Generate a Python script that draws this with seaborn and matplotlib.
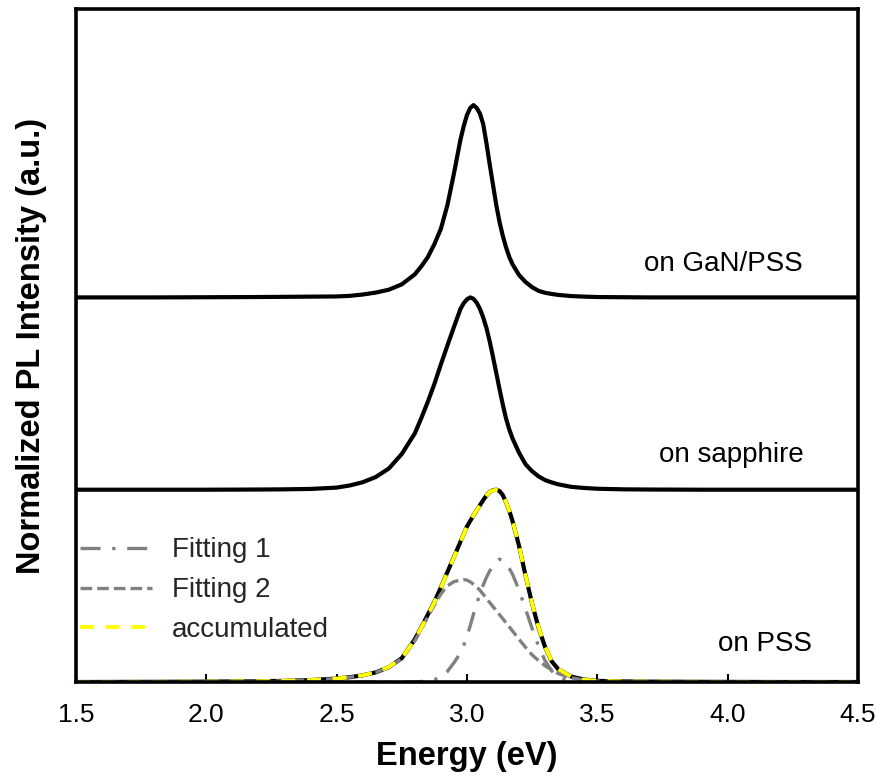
import numpy as np
import pandas as pd
import matplotlib
matplotlib.use("Agg")
import matplotlib.pyplot as plt
import seaborn as sns

# ---------------- data ----------------
energy = [1.5, 1.8, 2.0, 2.2, 2.3, 2.4, 2.5, 2.55, 2.6, 2.65, 2.7, 2.75,
          2.8, 2.825, 2.85, 2.875, 2.9, 2.925, 2.95,
          2.975, 2.9875, 3.0, 3.0125, 3.025, 3.0375, 3.05, 3.0625, 3.075, 3.0875,
          3.1, 3.1125, 3.125, 3.1375, 3.15, 3.1625, 3.175,
          3.2, 3.225, 3.25, 3.275, 3.3, 3.325, 3.35, 3.4, 3.45, 3.5,
          3.6, 3.7, 3.9, 4.2, 4.5]

pl_gan_pss = [0, 0, 0.001, 0.002, 0.003, 0.004, 0.005, 0.008, 0.015, 0.025, 0.04, 0.068,
              0.12, 0.162, 0.21, 0.277, 0.357, 0.48, 0.644,
              0.82, 0.89, 0.948, 0.985, 1.0, 0.985, 0.955, 0.90, 0.80, 0.69,
              0.585, 0.48, 0.392, 0.32, 0.26, 0.21, 0.172,
              0.116, 0.08, 0.053, 0.034, 0.024, 0.018, 0.013, 0.007, 0.004, 0.002,
              0.001, 0, 0, 0, 0]

pl_sapphire = [0, 0, 0, 0.001, 0.002, 0.004, 0.011, 0.022, 0.039, 0.066, 0.11, 0.186,
               0.293, 0.373, 0.458, 0.55, 0.652, 0.75, 0.846,
               0.94, 0.97, 0.99, 1.0, 0.993, 0.972, 0.94, 0.895, 0.84, 0.77,
               0.69, 0.607, 0.523, 0.443, 0.37, 0.313, 0.266,
               0.192, 0.132, 0.096, 0.069, 0.05, 0.038, 0.028, 0.015, 0.009, 0.005,
               0.002, 0.001, 0, 0, 0]

pl_pss = [0, 0.001, 0.002, 0.004, 0.006, 0.01, 0.018, 0.025, 0.035, 0.05, 0.077, 0.124,
          0.222, 0.285, 0.351, 0.417, 0.492, 0.572, 0.65,
          0.729, 0.77, 0.809, 0.838, 0.866, 0.894, 0.92, 0.946, 0.97, 0.988,
          0.998, 1.0, 0.993, 0.972, 0.934, 0.89, 0.836,
          0.707, 0.552, 0.407, 0.281, 0.181, 0.108, 0.067, 0.028, 0.013, 0.006,
          0.003, 0.002, 0.001, 0, 0]

fitting_1 = [0, 0, 0, 0, 0, 0, 0, 0, 0, 0, 0, 0,
             0, 0.003, 0.007, 0.013, 0.022, 0.055, 0.1,
             0.152, 0.19, 0.236, 0.293, 0.353, 0.408, 0.458, 0.505, 0.545, 0.578,
             0.605, 0.627, 0.639, 0.632, 0.615, 0.59, 0.56,
             0.478, 0.378, 0.278, 0.186, 0.11, 0.058, 0.025, 0.005, 0.001, 0,
             0, 0, 0, 0, 0]

fitting_2 = [0, 0.001, 0.002, 0.004, 0.006, 0.01, 0.018, 0.025, 0.035, 0.05, 0.077, 0.122,
             0.215, 0.275, 0.34, 0.40, 0.458, 0.50, 0.522,
             0.53, 0.532, 0.53, 0.521, 0.508, 0.494, 0.477, 0.456, 0.434, 0.413,
             0.392, 0.371, 0.35, 0.329, 0.308, 0.287, 0.265,
             0.222, 0.18, 0.141, 0.111, 0.084, 0.063, 0.044, 0.022, 0.01, 0.005,
             0.002, 0.001, 0, 0, 0]

accumulated = [0, 0.001, 0.002, 0.004, 0.006, 0.01, 0.018, 0.025, 0.035, 0.05, 0.078, 0.125,
               0.22, 0.283, 0.349, 0.415, 0.49, 0.57, 0.648,
               0.728, 0.769, 0.808, 0.837, 0.866, 0.894, 0.92, 0.946, 0.97, 0.988,
               0.997, 0.999, 0.993, 0.973, 0.935, 0.89, 0.837,
               0.708, 0.553, 0.408, 0.283, 0.182, 0.11, 0.068, 0.028, 0.012, 0.006,
               0.003, 0.002, 0.001, 0, 0]

sample_labels = ["on PSS", "on sapphire", "on GaN/PSS"]
legend_labels = ["Fitting 1", "Fitting 2", "accumulated"]
xticks = [1.5, 2.0, 2.5, 3.0, 3.5, 4.0, 4.5]

# ---------------- styling ----------------
sns.set_theme(style="white")
plt.rcParams["font.family"] = ["Liberation Sans", "DejaVu Sans"]

fig = plt.figure(figsize=(8.77, 7.79), dpi=100)
ax = fig.add_axes([0.0867, 0.1245, 0.8915, 0.864])

offsets = [0.0, 1.0, 2.0]
spectra = [pl_pss, pl_sapphire, pl_gan_pss]

E = np.array(energy)
for spec, off in zip(spectra, offsets):
    sns.lineplot(x=E, y=np.array(spec) + off, ax=ax, color="black", lw=3.0,
                 estimator=None, sort=False, solid_joinstyle="round",
                 solid_capstyle="butt")

gray = "#808080"
sns.lineplot(x=E, y=np.array(fitting_1), ax=ax, color=gray, lw=2.4,
             estimator=None, sort=False, linestyle=(0, (6, 3.5, 1, 3.5)))
h1 = ax.lines[-1]
sns.lineplot(x=E, y=np.array(fitting_2), ax=ax, color=gray, lw=2.4,
             estimator=None, sort=False, linestyle=(0, (3.5, 1.5)))
h2 = ax.lines[-1]
sns.lineplot(x=E, y=np.array(accumulated), ax=ax, color="#FFFF00", lw=2.8,
             estimator=None, sort=False, linestyle=(0, (3.6, 3.0)))
h3 = ax.lines[-1]

ax.set_xlim(1.5, 4.5)
ax.set_ylim(0, 3.5)
ax.set_xticks(xticks)
ax.set_xticklabels([f"{t:.1f}" for t in xticks])
ax.set_yticks([])
ax.tick_params(axis="x", direction="in", length=6, width=1.5, pad=15,
               labelsize=19, colors="black", bottom=True, top=False)
for sp in ax.spines.values():
    sp.set_color("black")
    sp.set_linewidth(2.6)

ax.set_xlabel("Energy (eV)", fontsize=23.5, fontweight="bold", color="black")
ax.set_ylabel("Normalized PL Intensity (a.u.)", fontsize=23.5, fontweight="bold", color="black")
ax.xaxis.set_label_coords(0.5, -0.088)
ax.yaxis.set_label_coords(-0.037, 0.5)

text_pos = [(4.142, 0.20), (4.013, 1.18), (3.985, 2.175)]
for lab, (tx, ty) in zip(sample_labels, text_pos):
    ax.text(tx, ty, lab, fontsize=20, ha="center", va="center", color="black")

leg = ax.legend([h1, h2, h3], legend_labels, loc="upper left",
                bbox_to_anchor=(0.0, 0.221), frameon=False, fontsize=20,
                handlelength=2.6, handletextpad=0.7, labelspacing=0.5,
                borderaxespad=0.0, borderpad=0.15)

fig.savefig("out.png", dpi=100)
